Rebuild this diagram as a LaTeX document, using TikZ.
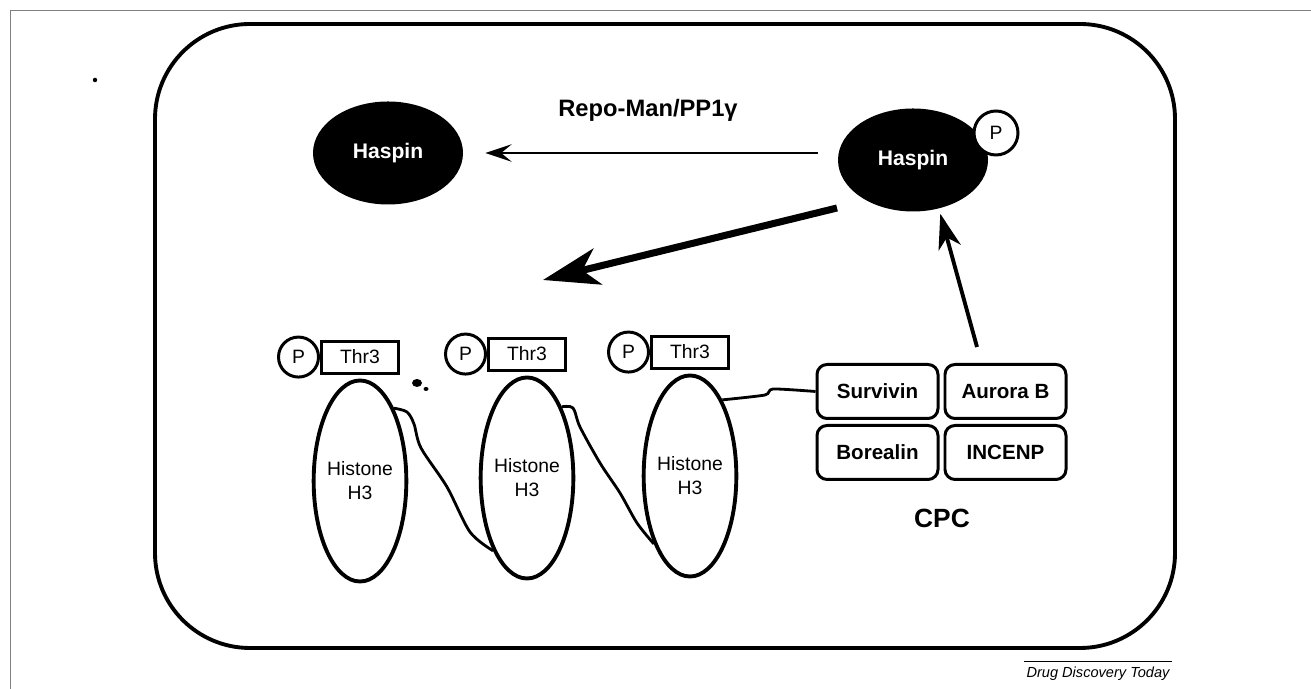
\documentclass[tikz,border=0pt]{standalone}
\usepackage{fontspec}
\setmainfont{Liberation Sans}
\usetikzlibrary{arrows.meta, positioning, shapes.geometric}

\begin{document}
\begin{tikzpicture}[
        haspin/.style={ellipse, fill=black, text=white, inner sep=0pt, minimum width=3cm, minimum height=2.06cm, font=\fontsize{12}{14}\selectfont\bfseries},
        histone/.style={ellipse, draw, line width=2.2pt, inner sep=0pt, minimum width=1.8cm, minimum height=4.02cm, align=center, font=\fontsize{11}{13.7}\selectfont},
        thrbox/.style={draw, line width=1.7pt, inner sep=0pt, minimum width=1.54cm, minimum height=0.64cm, font=\fontsize{11}{13}\selectfont},
        pcirc/.style={circle, draw, fill=white, line width=1.7pt, inner sep=0pt, minimum size=0.8cm, font=\fontsize{11}{13}\selectfont},
        cpcbox/.style={draw, rounded corners=0.2cm, line width=1.7pt, inner sep=0pt, minimum width=2.42cm, minimum height=1.08cm, font=\fontsize{11.7}{14}\selectfont\bfseries},
        linker/.style={line width=1.6pt}
    ]
        \useasboundingbox (0,0) rectangle (26.22,13.78);
        \draw[gray, thin] (0.2,0) -- (0.2,13.58) -- (26.22,13.58);
        \fill (1.9,12.18) circle [radius=0.045];
        \draw[line width=2.2pt, rounded corners=1.9cm] (3.1,0.82) rectangle (23.5,13.3);

        \node[haspin] (haspin) at (7.76,10.72) {Haspin};
        \node[haspin] (phaspin) at (18.26,10.58) {Haspin};
        \node[pcirc, minimum size=0.88cm] (pmark) at (19.92,11.12) {P};

        \node[font=\fontsize{13.5}{16}\selectfont\bfseries] (repo) at (12.96,11.58) {Repo-Man/PP1γ};
        \draw[line width=1.1pt, -{Stealth[length=15pt, width=10pt, inset=6pt]}, shorten <=0.4cm, shorten >=0.44cm] (phaspin.west |- haspin.east) -- (haspin.east);

        \coordinate (bigtail) at (16.74,9.62);
        \coordinate (bigtip) at (10.86,8.18);
        \draw[line width=4pt, -{Stealth[length=32pt, width=21pt, inset=9pt]}] (bigtail) -- (bigtip);

        \foreach \i/\x/\y in {1/7.2/4.16, 2/10.54/4.22, 3/13.8/4.26} {
            \node[histone] (h\i) at (\x,\y) {Histone\\H3};
            \node[thrbox, above=0.08cm of h\i] (t\i) {Thr3};
            \node[pcirc, left=0cm of t\i] (p\i) {P};
        }

        \fill (8.34,6.12) ellipse [x radius=0.1, y radius=0.08];
        \fill (8.52,6.0) ellipse [x radius=0.05, y radius=0.04];

        \node[cpcbox] (surv) at (17.55,5.95) {Survivin};
        \node[cpcbox, right=0.08cm of surv] (aurora) {Aurora B};
        \node[cpcbox, below=0.08cm of surv] (boreal) {Borealin};
        \node[cpcbox, right=0.08cm of boreal] (incenp) {INCENP};
        \node[font=\fontsize{15}{18}\selectfont\bfseries] (cpc) at (18.84,3.42) {CPC};

        \draw[linker] plot[smooth, tension=0.5] coordinates {(h1.65) (8.14,5.54) (8.28,5.3) (8.42,4.82) (8.94,4.04) (9.4,3.14) (h2.245)};
        \draw[linker] plot[smooth, tension=0.5] coordinates {(h2.64) (11.46,5.62) (11.6,5.24) (12.0,4.52) (12.4,3.92) (12.74,3.32) (h3.242)};
        \draw[linker] plot[smooth, tension=0.4] coordinates {(h3.67) (15.3,5.88) (15.46,6.0) (surv.west)};

        \coordinate (cpctail) at (19.54,6.84);
        \draw[line width=2.2pt, -{Stealth[length=20pt, width=13pt, inset=6pt]}, shorten >=3pt] (cpctail) -- (phaspin.298);

        \node[font=\fontsize{8.3}{10}\selectfont\itshape, inner sep=1pt] (ddt) at (21.96,0.3) {Drug Discovery Today};
        \draw[line width=0.6pt] ([yshift=2pt]ddt.north west) -- ([yshift=2pt]ddt.north east);
    \end{tikzpicture}
\end{document}
